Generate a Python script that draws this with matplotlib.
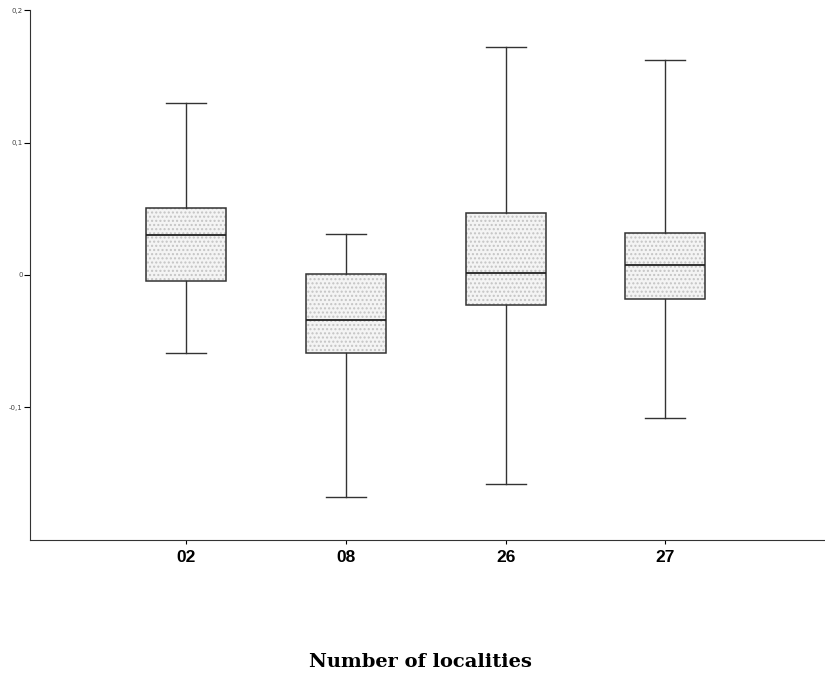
import matplotlib.pyplot as plt

# values
localities = ['02', '08', '26', '27']
whislo = [-0.059, -0.168, -0.158, -0.108]
q1 = [-0.0045, -0.059, -0.023, -0.018]
med = [0.030, -0.034, 0.0015, 0.0075]
q3 = [0.0505, 0.001, 0.047, 0.032]
whishi = [0.130, 0.031, 0.172, 0.162]

yticks = [0.2, 0.1, 0.0, -0.1]
ytick_labels = ['0,2', '0,1', '0', '-0,1']

stats = []
for i in range(len(localities)):
    stats.append({'label': localities[i], 'whislo': whislo[i], 'q1': q1[i],
                  'med': med[i], 'q3': q3[i], 'whishi': whishi[i], 'fliers': []})

plt.rcParams['hatch.linewidth'] = 1.0

fig = plt.figure(figsize=(8.25, 6.74), dpi=100)
ax = fig.add_axes([0.036, 0.199, 0.964, 0.786])

pos = [1, 2, 3, 4]
# pass 1: light dotted fill (hatch colour follows edge colour)
ax.bxp(stats, positions=pos, widths=0.5, patch_artist=True, showfliers=False,
       boxprops=dict(facecolor='#f4f4f4', edgecolor='#c4c4c4', linewidth=0, hatch='....'),
       medianprops=dict(linewidth=0), whiskerprops=dict(linewidth=0),
       capprops=dict(linewidth=0), manage_ticks=False)
# pass 2: dark outlines, median, whiskers, caps
ax.bxp(stats, positions=pos, widths=0.5, patch_artist=True, showfliers=False,
       boxprops=dict(facecolor='none', edgecolor='#333333', linewidth=1.1),
       medianprops=dict(color='#222222', linewidth=1.3),
       whiskerprops=dict(color='#333333', linewidth=1.0),
       capprops=dict(color='#333333', linewidth=1.0),
       capwidths=0.25)

ax.set_xlim(0.02, 5.0)
ax.set_ylim(-0.2, 0.2)
ax.set_yticks(yticks)
ax.set_yticklabels(ytick_labels, fontsize=5, color='#444444')
ax.set_xticks(pos)
ax.set_xticklabels(localities, fontsize=12.5, fontweight='bold', family='Liberation Sans')
ax.tick_params(axis='y', length=4, width=0.8, pad=1)
ax.tick_params(axis='x', length=3, width=0.8, pad=4)

ax.spines['top'].set_visible(False)
ax.spines['right'].set_visible(False)
ax.spines['left'].set_color('#333333')
ax.spines['bottom'].set_color('#333333')

fig.text(420 / 825, 1 - 662 / 674, 'Number of localities', ha='center', va='center',
         fontsize=14, fontweight='bold', family='DejaVu Serif')

fig.savefig('out.png', dpi=100)
